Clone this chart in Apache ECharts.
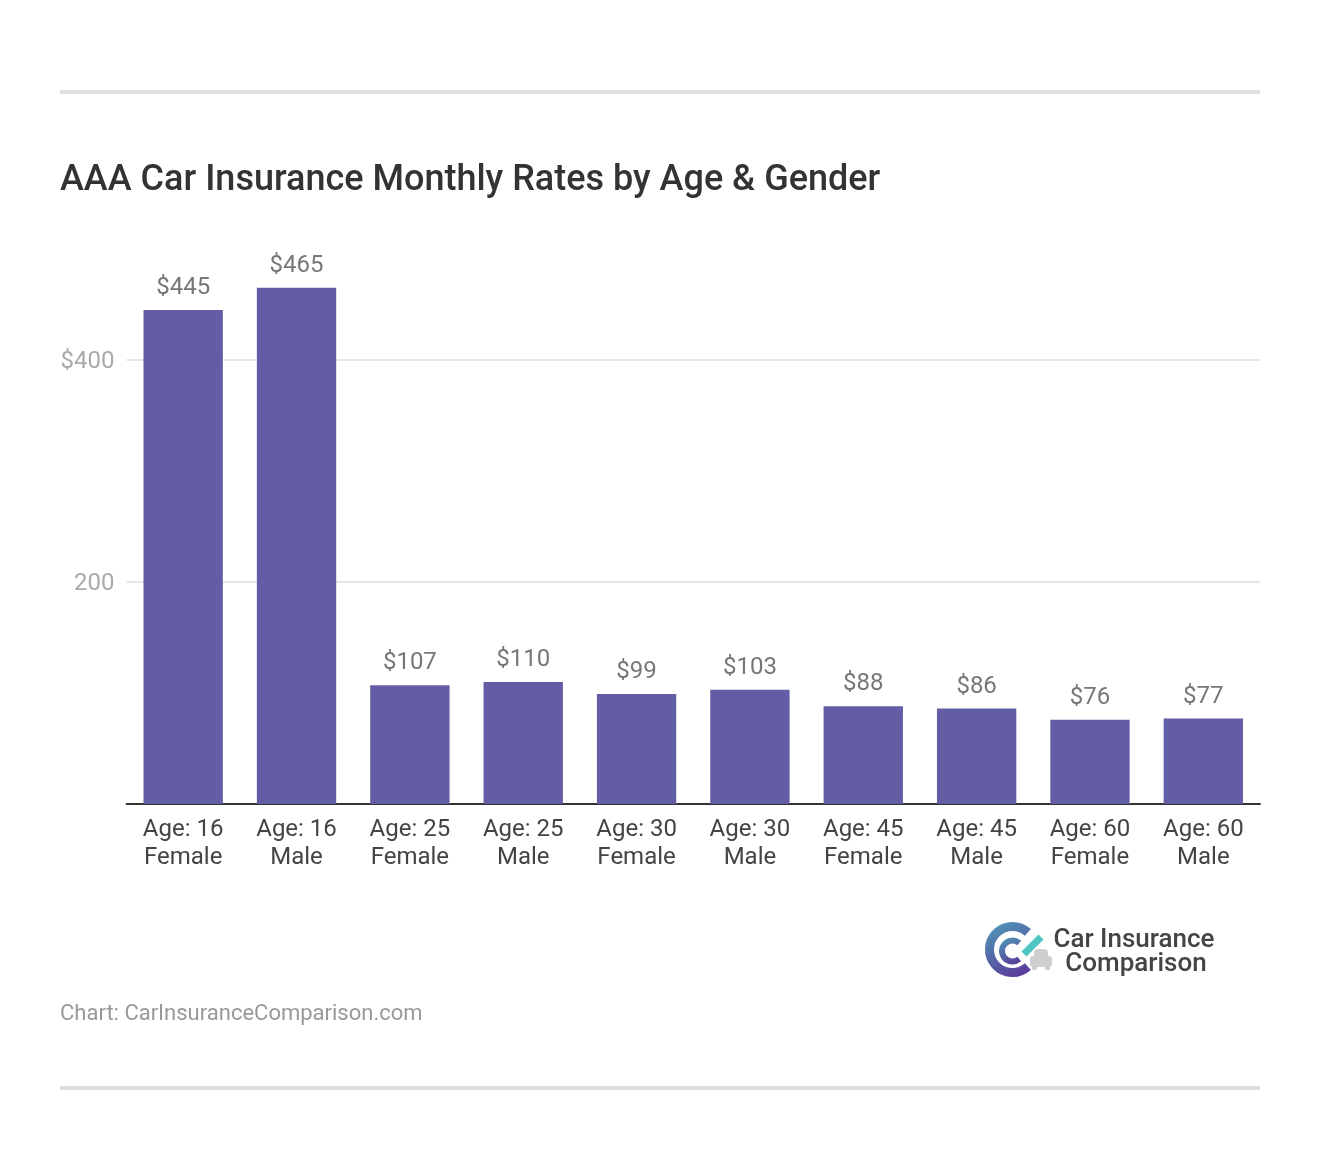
<!DOCTYPE html>
<html>
<head>
<meta charset="utf-8">
<title>AAA Car Insurance Monthly Rates by Age & Gender</title>
<style>
  html, body { margin: 0; padding: 0; background: #fff; }
  #chart { width: 1320px; height: 1170px; }
</style>
<script src="https://cdn.jsdelivr.net/npm/echarts@6/dist/echarts.min.js"></script>
</head>
<body>
<div id="chart"></div>
<script>
var categories = ['Age: 16\nFemale', 'Age: 16\nMale', 'Age: 25\nFemale', 'Age: 25\nMale', 'Age: 30\nFemale',
  'Age: 30\nMale', 'Age: 45\nFemale', 'Age: 45\nMale', 'Age: 60\nFemale', 'Age: 60\nMale'];
var rates = [445, 465, 107, 110, 99, 103, 88, 86, 76, 77];
var yTickLabels = { 200: '200', 400: '$400' };

var FONT = 'Roboto';
var deg = Math.PI / 180;

// logo ring gradient, teal on the left going to purple
var ringColor = new echarts.graphic.LinearGradient(0, 0, 0.6, 1, [
  { offset: 0, color: '#4f9fba' },
  { offset: 0.55, color: '#5569a8' },
  { offset: 1, color: '#5a3f9c' }
]);

var chart = echarts.init(document.getElementById('chart'));
chart.setOption({
  animation: false,
  backgroundColor: '#fff',
  title: {
    text: 'AAA Car Insurance Monthly Rates by Age & Gender',
    left: 60,
    top: 163,
    padding: 0,
    textStyle: { fontFamily: FONT, fontSize: 36, fontWeight: 500, color: '#333' }
  },
  grid: { left: 126.5, right: 60, top: 249, bottom: 366 },
  xAxis: {
    type: 'category',
    data: categories,
    axisTick: { show: false },
    axisLine: { lineStyle: { color: '#333', width: 2 } },
    axisLabel: {
      interval: 0,
      margin: 12,
      lineHeight: 28,
      fontFamily: FONT,
      fontSize: 24,
      color: '#444'
    }
  },
  yAxis: {
    type: 'value',
    min: 0,
    max: 500,
    interval: 200,
    axisLine: { show: false },
    axisTick: { show: false },
    splitLine: { showMaxLine: false, lineStyle: { color: '#e6e6e6', width: 2 } },
    axisLabel: {
      margin: 12,
      // middle alignment ignores padding, so push the label down from the bottom
      verticalAlign: 'bottom',
      padding: [0, 0, -14, 0],
      fontFamily: FONT,
      fontSize: 24,
      color: '#aaa',
      formatter: function (v) { return yTickLabels[v] || ''; }
    }
  },
  series: [{
    type: 'bar',
    data: rates,
    barCategoryGap: '30%',
    itemStyle: { color: '#635da5' },
    label: {
      show: true,
      position: 'top',
      distance: 10,
      fontFamily: FONT,
      fontSize: 24,
      color: '#777',
      formatter: function (p) { return '$' + p.value; }
    }
  }],
  graphic: [
    { type: 'rect', shape: { x: 60, y: 90, width: 1200, height: 4 }, style: { fill: '#e0e0e0' } },
    { type: 'rect', shape: { x: 60, y: 1086, width: 1200, height: 4 }, style: { fill: '#e0e0e0' } },
    { type: 'text', style: { x: 60, y: 1014, text: 'Chart: CarInsuranceComparison.com', verticalAlign: 'middle',
        font: '400 22px ' + FONT, fill: '#999' } },
    // logo
    { type: 'arc', shape: { cx: 1012.5, cy: 949.5, r: 23, startAngle: 48 * deg, endAngle: 312 * deg },
      style: { stroke: ringColor, lineWidth: 9, fill: null } },
    { type: 'arc', shape: { cx: 1012.5, cy: 951, r: 10.5, startAngle: 50 * deg, endAngle: 310 * deg },
      style: { stroke: ringColor, lineWidth: 6, fill: null } },
    { type: 'line', shape: { x1: 1024, y1: 954, x2: 1041, y2: 937 },
      style: { stroke: '#4fc6c4', lineWidth: 7 } },
    // little car under the check mark
    { type: 'rect', shape: { x: 1034, y: 949, width: 14, height: 10, r: 4 }, style: { fill: '#cfcfcf' } },
    { type: 'rect', shape: { x: 1030, y: 956, width: 22, height: 11, r: 3 }, style: { fill: '#cfcfcf' } },
    { type: 'rect', shape: { x: 1032, y: 966, width: 5, height: 4, r: 1 }, style: { fill: '#cfcfcf' } },
    { type: 'rect', shape: { x: 1045, y: 966, width: 5, height: 4, r: 1 }, style: { fill: '#cfcfcf' } },
    { type: 'text', style: { x: 1134, y: 940, text: 'Car Insurance', align: 'center', verticalAlign: 'middle',
        font: '500 26px ' + FONT, fill: '#444' } },
    { type: 'text', style: { x: 1136, y: 964, text: 'Comparison', align: 'center', verticalAlign: 'middle',
        font: '500 26px ' + FONT, fill: '#444' } }
  ]
});
</script>
</body>
</html>
